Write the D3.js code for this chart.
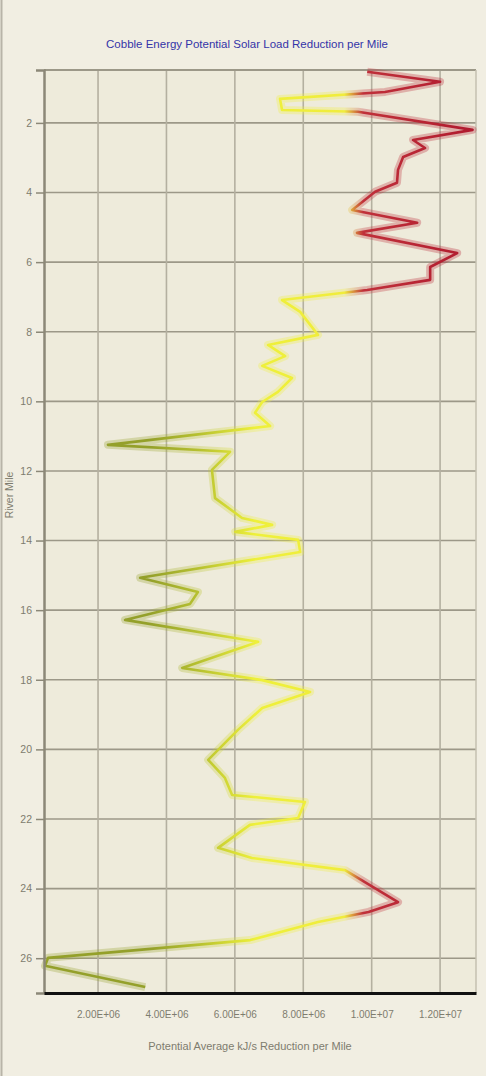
<!DOCTYPE html>
<html>
<head>
<meta charset="utf-8">
<script src="https://cdn.jsdelivr.net/npm/d3@7/dist/d3.min.js"></script>
<style>
  html, body { margin: 0; padding: 0; background: #F1EEE2; }
  svg { display: block; }
</style>
</head>
<body>
<svg id="chart" width="486" height="1076"></svg>
<script>
// ---- data ----
const titleText = "Cobble Energy Potential Solar Load Reduction per Mile";
const xLabelText = "Potential Average kJ/s Reduction per Mile";
const yLabelText = "River Mile";

const miles = [0.53, 0.82, 1.11, 1.31, 1.63, 1.68, 2.20, 2.49, 2.72, 2.98, 3.35, 3.72, 3.98,
  4.50, 4.87, 5.16, 5.74, 6.14, 6.51, 6.80, 7.09, 7.43, 8.09, 8.38, 8.70, 8.98, 9.33, 9.73,
  10.02, 10.33, 10.71, 11.25, 11.45, 11.97, 12.78, 13.35, 13.55, 13.75, 13.98, 14.33, 15.07,
  15.48, 15.82, 16.28, 16.91, 17.66, 18.01, 18.35, 18.81, 19.44, 20.30, 20.82, 21.31, 21.51,
  21.97, 22.17, 22.83, 23.12, 23.47, 24.39, 24.67, 24.96, 25.48, 25.99, 26.22, 26.83];
const values = [9.87, 12.0, 10.39, 7.32, 7.38, 9.60, 12.95, 11.21, 11.56, 10.92, 10.77, 10.74, 10.10,
  9.43, 11.33, 9.57, 12.50, 11.71, 11.71, 9.87, 7.38, 7.91, 8.43, 6.97, 7.47, 6.80, 7.67, 7.26,
  6.80, 6.59, 7.03, 2.29, 5.86, 5.33, 5.42, 6.21, 7.09, 6.01, 7.85, 7.91, 3.23,
  4.92, 4.69, 2.79, 6.68, 4.46, 6.80, 8.20, 6.80, 6.09, 5.22, 5.71, 5.92, 8.05,
  7.85, 6.44, 5.51, 6.50, 9.22, 10.77, 9.91, 8.43, 6.45, 0.54, 0.45, 3.38]; // millions

const xTicks = [2e6, 4e6, 6e6, 8e6, 10e6, 12e6];
const xTickLabels = ["2.00E+06", "4.00E+06", "6.00E+06", "8.00E+06", "1.00E+07", "1.20E+07"];
const yTicks = [2, 4, 6, 8, 10, 12, 14, 16, 18, 20, 22, 24, 26];
const yTickLabels = ["2", "4", "6", "8", "10", "12", "14", "16", "18", "20", "22", "24", "26"];

// ---- layout ----
const svg = d3.select("#chart");
const L = 44, R = 476, T = 70, B = 993;

const x = d3.scaleLinear().domain([0.42e6, 13.05e6]).range([L, R]);
const y = d3.scaleLinear().domain([0.48, 27.0]).range([T, B]);

// outer border
svg.append("rect").attr("x", 0).attr("y", 0).attr("width", 486).attr("height", 1076).attr("fill", "#F1EEE2");
svg.append("line").attr("x1", 1.5).attr("x2", 1.5).attr("y1", 0).attr("y2", 1076)
  .attr("stroke", "#B8B4A8").attr("stroke-width", 2);

// plot background
svg.append("rect").attr("x", L).attr("y", T).attr("width", R - L).attr("height", B - T)
  .attr("fill", "#EEEBDB");

// title
svg.append("text").attr("x", 247).attr("y", 48).attr("text-anchor", "middle")
  .attr("font-family", "Liberation Sans, Arial, sans-serif").attr("font-size", 11.5)
  .attr("fill", "#3434A8").text(titleText);

// grid
const grid = svg.append("g");
grid.selectAll("line.h").data(yTicks).join("line")
  .attr("x1", L).attr("x2", R).attr("y1", d => y(d)).attr("y2", d => y(d))
  .attr("stroke", "#9C9888").attr("stroke-width", 1.6);
grid.selectAll("line.v").data(xTicks).join("line")
  .attr("y1", T).attr("y2", B).attr("x1", d => x(d)).attr("x2", d => x(d))
  .attr("stroke", "#B4B0A0").attr("stroke-width", 1.6);

// frame
svg.append("line").attr("x1", L).attr("x2", R).attr("y1", T).attr("y2", T)
  .attr("stroke", "#9C9888").attr("stroke-width", 2);
svg.append("line").attr("x1", R).attr("x2", R).attr("y1", T).attr("y2", B)
  .attr("stroke", "#C4C0B0").attr("stroke-width", 1.5);

// gradient by value
const defs = svg.append("defs");
const grad = defs.append("linearGradient").attr("id", "valGrad")
  .attr("gradientUnits", "userSpaceOnUse")
  .attr("x1", x(0.42e6)).attr("x2", x(13.05e6)).attr("y1", 0).attr("y2", 0);
const x0 = x(0.42e6), x1 = x(13.05e6);
const off = v => ((x(v) - x0) / (x1 - x0));
[[3.5e6, "#94A02A"], [5.0e6, "#B8C230"], [6.6e6, "#EEF03A"], [9.2e6, "#F0EC3C"],
 [9.75e6, "#C0303A"], [13e6, "#B01A2E"]].forEach(([v, c]) => {
  grad.append("stop").attr("offset", off(v)).attr("stop-color", c);
});

const pts = miles.map((m, i) => [values[i] * 1e6, m]);
const line = d3.line().x(d => x(d[0])).y(d => y(d[1]));

svg.append("path").datum(pts).attr("d", line).attr("fill", "none")
  .attr("stroke", "url(#valGrad)").attr("stroke-width", 8).attr("stroke-opacity", 0.3)
  .attr("stroke-linejoin", "round");
svg.append("path").datum(pts).attr("d", line).attr("fill", "none")
  .attr("stroke", "url(#valGrad)").attr("stroke-width", 2.6)
  .attr("stroke-linejoin", "round");

// axes
const yAxis = d3.axisLeft(y).tickValues(yTicks).tickFormat((d, i) => yTickLabels[i]).tickSize(8).tickPadding(4);
const gy = svg.append("g").attr("transform", `translate(${L},0)`).call(yAxis);
gy.select(".domain").attr("stroke", "#8C8878").attr("stroke-width", 2.5);
gy.selectAll(".tick line").attr("stroke", "#8C8878").attr("stroke-width", 1.5);
gy.selectAll(".tick text").attr("fill", "#7E7C6E").attr("font-size", 10.5)
  .attr("font-family", "Liberation Sans, Arial, sans-serif");

const xAxis = d3.axisBottom(x).tickValues(xTicks).tickFormat((d, i) => xTickLabels[i]).tickSize(0).tickPadding(18);
const gx = svg.append("g").attr("transform", `translate(0,${B})`).call(xAxis);
gx.select(".domain").attr("stroke", "#111").attr("stroke-width", 3);
gx.selectAll(".tick text").attr("fill", "#7E7C6E").attr("font-size", 10)
  .attr("font-family", "Liberation Sans, Arial, sans-serif");

// axis titles
svg.append("text").attr("x", 250).attr("y", 1050).attr("text-anchor", "middle")
  .attr("font-family", "Liberation Sans, Arial, sans-serif").attr("font-size", 11)
  .attr("fill", "#7E7C6E").text(xLabelText);
svg.append("text").attr("transform", "translate(13,495) rotate(-90)").attr("text-anchor", "middle")
  .attr("font-family", "Liberation Sans, Arial, sans-serif").attr("font-size", 10.5)
  .attr("fill", "#7E7C6E").text(yLabelText);
</script>
</body>
</html>
